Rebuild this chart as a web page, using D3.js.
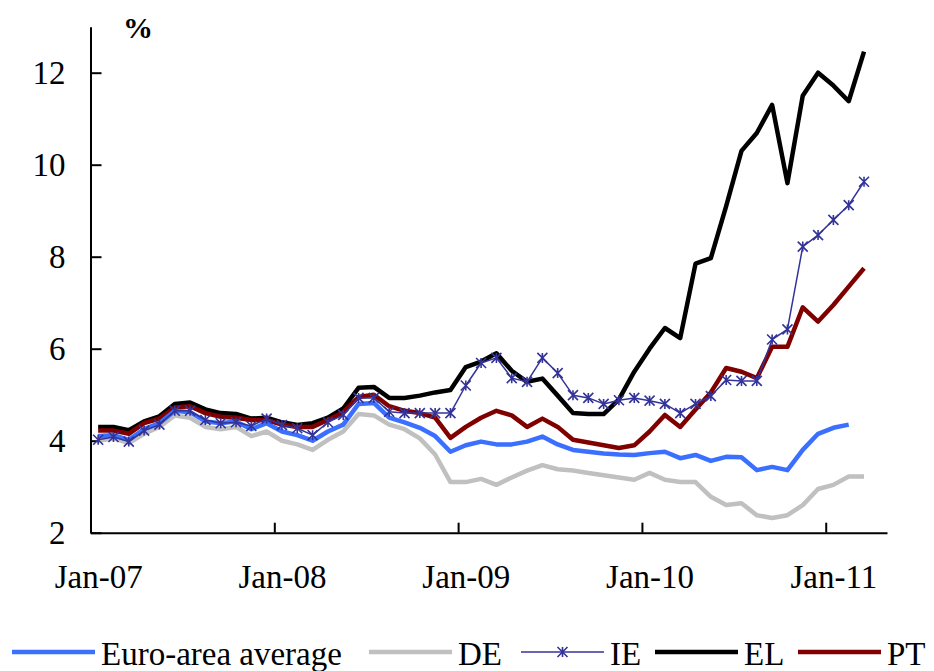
<!DOCTYPE html>
<html>
<head>
<meta charset="utf-8">
<script src="https://cdn.jsdelivr.net/npm/d3@7"></script>
<style>
  body { margin: 0; background: #fff; }
  text { font-family: "Liberation Serif", "Times New Roman", serif; }
</style>
</head>
<body>
<div id="chart"></div>
<script>
// Monthly categories Jan-07 .. Apr-11 (last slot left empty, as in the source).
const months = d3.timeMonths(new Date(2007, 0, 1), new Date(2011, 4, 1));
const tickLabels = ['Jan-07', 'Jan-08', 'Jan-09', 'Jan-10', 'Jan-11'];
const yTicks = [2, 4, 6, 8, 10, 12];

// 10-year government bond yields, %
const euroArea = [
  4.10, 4.12, 4.02, 4.25, 4.38, 4.65, 4.62, 4.42, 4.38, 4.42, 4.25, 4.38,
  4.20, 4.12, 4.00, 4.20, 4.35, 4.80, 4.82, 4.50, 4.40, 4.28, 4.10, 3.76,
  3.90, 3.98, 3.92, 3.92, 3.98, 4.09, 3.92, 3.80, 3.76, 3.72, 3.70, 3.69,
  3.73, 3.76, 3.62, 3.69, 3.56, 3.65, 3.64, 3.36, 3.43, 3.36, 3.80, 4.15,
  4.28, 4.35
];
const de = [
  4.00, 4.05, 3.95, 4.15, 4.30, 4.55, 4.50, 4.30, 4.25, 4.30, 4.10, 4.20,
  4.00, 3.92, 3.80, 4.02, 4.20, 4.58, 4.55, 4.35, 4.25, 4.05, 3.70, 3.10,
  3.10, 3.17, 3.04, 3.20, 3.35, 3.47, 3.38, 3.35, 3.30, 3.25, 3.20, 3.15,
  3.30, 3.15, 3.10, 3.10, 2.78, 2.60, 2.64, 2.38, 2.32, 2.38, 2.60, 2.95,
  3.04, 3.22, 3.22
];
const ie = [
  4.02, 4.08, 3.98, 4.22, 4.35, 4.65, 4.65, 4.45, 4.38, 4.40, 4.32, 4.48,
  4.34, 4.27, 4.12, 4.40, 4.56, 4.93, 4.93, 4.63, 4.60, 4.60, 4.60, 4.60,
  5.20, 5.69, 5.80, 5.36, 5.28, 5.80, 5.47, 4.99, 4.93, 4.80, 4.88, 4.93,
  4.87, 4.80, 4.60, 4.80, 4.97, 5.32, 5.30, 5.30, 6.20, 6.42, 8.22, 8.47,
  8.80, 9.12, 9.63
];
const el = [
  4.30, 4.30, 4.23, 4.42, 4.53, 4.80, 4.83, 4.68, 4.60, 4.58, 4.48, 4.50,
  4.40, 4.34, 4.38, 4.50, 4.70, 5.15, 5.17, 4.93, 4.93, 4.98, 5.05, 5.10,
  5.60, 5.72, 5.90, 5.52, 5.28, 5.35, 4.98, 4.60, 4.58, 4.58, 4.90, 5.50,
  6.00, 6.45, 6.23, 7.85, 7.97, 9.10, 10.30, 10.69, 11.30, 9.60, 11.50, 12.00,
  11.72, 11.38, 12.46
];
const pt = [
  4.22, 4.22, 4.15, 4.38, 4.48, 4.72, 4.75, 4.60, 4.52, 4.50, 4.45, 4.45,
  4.35, 4.30, 4.30, 4.45, 4.62, 4.95, 5.00, 4.75, 4.65, 4.60, 4.50, 4.06,
  4.30, 4.50, 4.65, 4.55, 4.30, 4.48, 4.30, 4.02, 3.96, 3.90, 3.84, 3.90,
  4.20, 4.56, 4.30, 4.68, 5.05, 5.58, 5.50, 5.36, 6.04, 6.04, 6.90, 6.59,
  6.95, 7.35, 7.75
];

const series = [
  {name: 'Euro-area average', values: euroArea, color: '#3a6fff', width: 4.5},
  {name: 'DE', values: de, color: '#c0c0c0', width: 4.5},
  {name: 'IE', values: ie, color: '#333399', width: 1.5, star: true},
  {name: 'EL', values: el, color: '#000000', width: 4.5},
  {name: 'PT', values: pt, color: '#800000', width: 4.5}
];
// drawing order (back to front)
const drawOrder = ['DE', 'EL', 'PT', 'Euro-area average', 'IE'];

const width = 934, height = 671;
const fontSize = 33;

const svg = d3.select('#chart').append('svg')
  .attr('width', width)
  .attr('height', height);

const x = d3.scaleLinear()
  .domain([0, months.length])
  .range([90.5, 887]);

const y = d3.scaleLinear()
  .domain([2, 13])
  .range([532.7, 26.7]);

// y axis, ticks pointing inward
const yAxis = d3.axisLeft(y)
  .tickValues(yTicks)
  .tickSize(-11)
  .tickSizeOuter(0)
  .tickPadding(25)
  .tickFormat(d3.format('d'));

svg.append('g')
  .attr('class', 'y axis')
  .attr('transform', `translate(${x(0)}, 0)`)
  .call(yAxis)
  .call(g => g.selectAll('text').attr('font-size', fontSize).attr('fill', '#000')
    .style('font-family', '"Liberation Serif", "Times New Roman", serif'))
  .call(g => g.selectAll('line, path').attr('stroke', '#000').attr('stroke-width', 2));

// x axis: tick marks on year boundaries, labels centred on the January slot
const yearIdx = tickLabels.map((d, i) => i * 12);

svg.append('g')
  .attr('class', 'x axis')
  .attr('transform', `translate(0, ${y(2)})`)
  .call(d3.axisBottom(x).tickValues(yearIdx).tickSize(-10).tickSizeOuter(0).tickFormat(''))
  .call(g => g.selectAll('line, path').attr('stroke', '#000').attr('stroke-width', 2));

svg.append('g')
  .attr('class', 'x labels')
  .attr('transform', `translate(0, ${y(2)})`)
  .call(d3.axisBottom(x)
    .tickValues(yearIdx.map(i => i + 0.5))
    .tickSize(0)
    .tickPadding(32)
    .tickFormat((d, i) => tickLabels[i]))
  .call(g => g.select('.domain').remove())
  .call(g => g.selectAll('text').attr('font-size', fontSize).attr('fill', '#000')
    .style('font-family', '"Liberation Serif", "Times New Roman", serif'));

svg.append('text')
  .attr('x', 123)
  .attr('y', 38)
  .attr('font-size', 30)
  .attr('font-weight', 'bold')
  .text('%');

// lines
const line = d3.line()
  .x((d, i) => x(i + 0.5))
  .y(d => y(d));

const starPath = s => `M${-s},${-s}L${s},${s}M${-s},${s}L${s},${-s}M0,${-s}L0,${s}`;

const plotG = svg.append('g');
for (const name of drawOrder) {
  const s = series.find(o => o.name === name);
  plotG.append('path')
    .datum(s.values)
    .attr('fill', 'none')
    .attr('stroke', s.color)
    .attr('stroke-width', s.width)
    .attr('stroke-linejoin', 'round')
    .attr('d', line);

  if (s.star) {
    plotG.selectAll(null)
      .data(s.values)
      .enter()
      .append('path')
      .attr('transform', (d, i) => `translate(${x(i + 0.5)}, ${y(d)})`)
      .attr('d', starPath(5))
      .attr('fill', 'none')
      .attr('stroke', s.color)
      .attr('stroke-width', 1.6);
  }
}

// legend
const legendItems = [
  {name: 'Euro-area average', x0: 12},
  {name: 'DE', x0: 369},
  {name: 'IE', x0: 521},
  {name: 'EL', x0: 655},
  {name: 'PT', x0: 798}
];
const legendY = 652;
const legendG = svg.append('g').attr('class', 'legend');

for (const item of legendItems) {
  const s = series.find(o => o.name === item.name);
  legendG.append('line')
    .attr('x1', item.x0)
    .attr('x2', item.x0 + 83)
    .attr('y1', legendY)
    .attr('y2', legendY)
    .attr('stroke', s.color)
    .attr('stroke-width', s.width);

  if (s.star) {
    legendG.append('path')
      .attr('transform', `translate(${item.x0 + 41.5}, ${legendY})`)
      .attr('d', starPath(5))
      .attr('fill', 'none')
      .attr('stroke', s.color)
      .attr('stroke-width', 1.6);
  }

  legendG.append('text')
    .attr('x', item.x0 + 89)
    .attr('y', legendY + 13)
    .attr('font-size', fontSize)
    .text(item.name);
}
</script>
</body>
</html>
